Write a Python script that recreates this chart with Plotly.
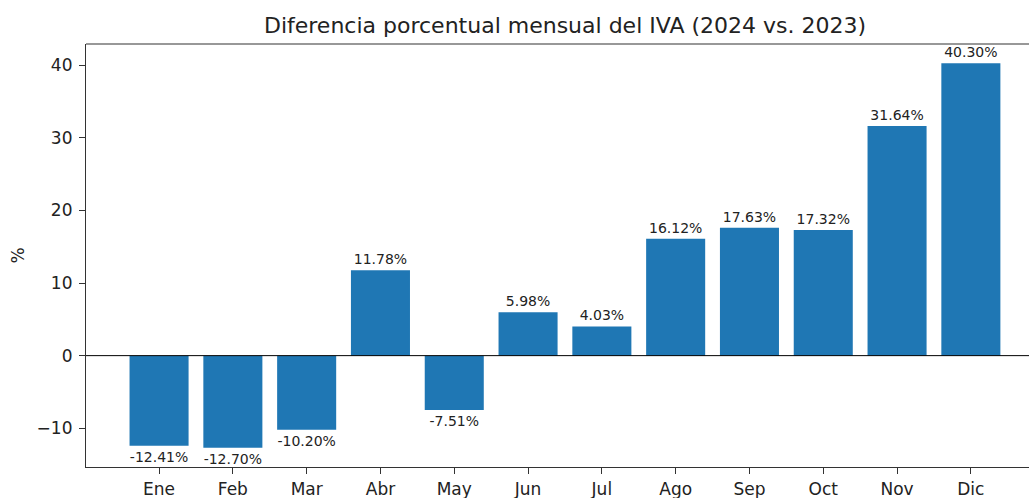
import plotly.graph_objects as go

months = ["Ene", "Feb", "Mar", "Abr", "May", "Jun", "Jul", "Ago", "Sep", "Oct", "Nov", "Dic"]
values = [-12.41, -12.70, -10.20, 11.78, -7.51, 5.98, 4.03, 16.12, 17.63, 17.32, 31.64, 40.30]
y_ticks = [-10, 0, 10, 20, 30, 40]

x_idx = list(range(len(months)))
labels = [f"{v:.2f}%" for v in values]

W, H = 1029, 498
L = 86
X0 = -0.99
PX_PER_UNIT = 73.8
X1 = X0 + (W - L) / PX_PER_UNIT

fig = go.Figure()
fig.add_trace(go.Bar(
    x=x_idx, y=values, width=0.8,
    marker=dict(color="#1f77b4", line=dict(width=0)),
    text=labels, textposition="outside", cliponaxis=False,
    textfont=dict(family="DejaVu Sans", size=14, color="#222"),
    textangle=0,
))

fig.add_shape(type="line", xref="paper", yref="y", x0=0, x1=1, y0=0, y1=0,
              line=dict(color="black", width=1))
fig.add_shape(type="line", xref="paper", yref="paper", x0=0, x1=1, y0=1, y1=1,
              line=dict(color="#333", width=1.2))

fig.update_layout(
    width=W, height=H,
    margin=dict(l=L, r=0, t=44, b=H - 467, pad=0, autoexpand=False),
    paper_bgcolor="white", plot_bgcolor="white",
    showlegend=False,
    font=dict(family="DejaVu Sans", color="#222"),
    title=dict(text="Diferencia porcentual mensual del IVA (2024 vs. 2023)",
               x=565 / W, xanchor="center", y=1 - 25 / H, yanchor="middle",
               font=dict(size=22, color="#222")),
    uniformtext=dict(mode=False),
)
fig.update_xaxes(
    range=[X0, X1], tickmode="array", tickvals=x_idx, ticktext=months,
    showline=True, linecolor="#333", linewidth=1.2, ticks="outside", ticklen=6,
    tickcolor="#333", showgrid=False, zeroline=False, automargin=False,
    tickfont=dict(size=17, color="#222"),
)
fig.update_yaxes(
    range=[-15.35, 42.95], tickmode="array", tickvals=y_ticks,
    showline=True, linecolor="#333", linewidth=1.2, ticks="outside", ticklen=6,
    tickcolor="#333", showgrid=False, zeroline=False, automargin=False,
    tickfont=dict(size=17, color="#222"), ticklabelstandoff=3,
    title=dict(text="%", font=dict(size=17, color="#222"), standoff=7),
)

fig.write_html(
    "out.html",
    config={"displayModeBar": False},
    post_script="document.body.style.margin='0';document.body.style.overflow='hidden';",
)
